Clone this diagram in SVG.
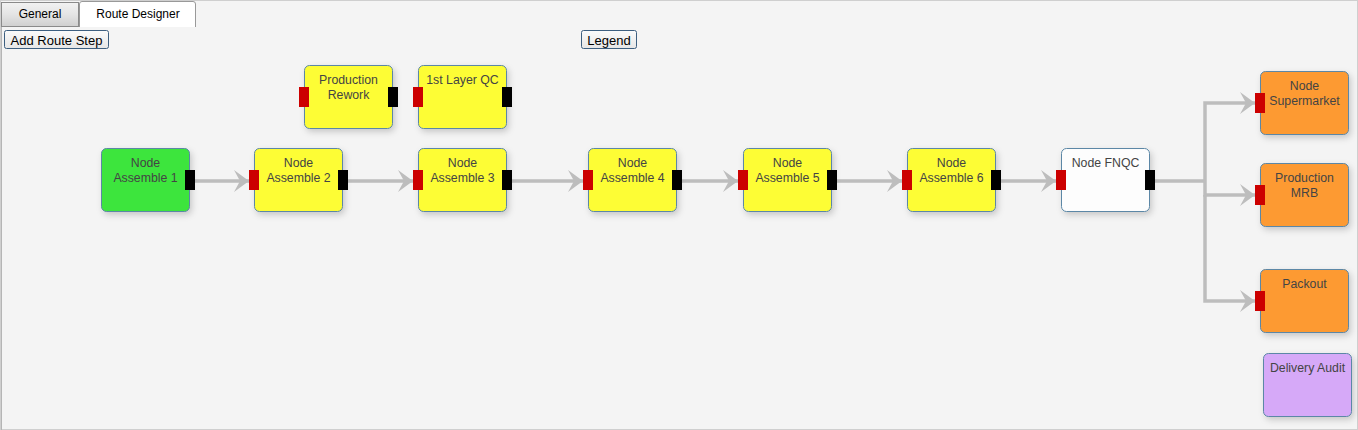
<svg xmlns="http://www.w3.org/2000/svg" width="1358" height="430" viewBox="0 0 1358 430">
<style>
.node{stroke:#5b87a6;stroke-width:1;}
.t{font-family:"Liberation Sans",Arial,sans-serif;font-size:12.3px;fill:#444;text-anchor:middle;}
.in{fill:#cc0000;}
.out{fill:#000;}
.conn{fill:none;stroke:#bdbdbd;stroke-width:3.5;}
.btn{fill:url(#btnG);stroke:#3d5f80;stroke-width:1;}
.bt{font-family:"Liberation Sans",Arial,sans-serif;font-size:13px;fill:#000;text-anchor:middle;}
.tab{font-family:"Liberation Sans",Arial,sans-serif;font-size:12px;fill:#000;text-anchor:middle;}
</style>
<defs>
<marker id="arr" markerWidth="16" markerHeight="24" refX="15" refY="11" orient="auto" markerUnits="userSpaceOnUse" viewBox="0 0 16 22">
<path d="M0,0 L15,11 L0,22 L6,11 Z" fill="#bdbdbd"/>
</marker>
<filter id="sh" x="-20%" y="-20%" width="150%" height="160%">
<feDropShadow dx="2" dy="3" stdDeviation="3" flood-color="#000" flood-opacity="0.18"/>
</filter>
<linearGradient id="btnG" x1="0" y1="0" x2="0" y2="1">
<stop offset="0" stop-color="#fbfbfb"/>
<stop offset="1" stop-color="#e6e6e6"/>
</linearGradient>
<linearGradient id="tabG" x1="0" y1="0" x2="0" y2="1">
<stop offset="0" stop-color="#f2f2f2"/>
<stop offset="0.5" stop-color="#e4e4e4"/>
<stop offset="1" stop-color="#cfcfcf"/>
</linearGradient>
</defs>
<rect x="0" y="0" width="1358" height="430" fill="#f4f4f4"/>
<rect x="0.5" y="0.5" width="1357" height="429" fill="none" stroke="#cfcfcf"/>
<line x1="1.5" y1="27" x2="1.5" y2="430" stroke="#b5b5b5"/>
<g id="tabs">
<rect x="1.5" y="2.5" width="77" height="24" fill="url(#tabG)" stroke="#8a8a8a"/>
<text class="tab" x="40" y="18">General</text>
<path d="M79.5,27 V4 Q79.5,1.5 82,1.5 H193 Q195.5,1.5 195.5,4 V27" fill="#fff" stroke="#999"/>
<text class="tab" x="138" y="18">Route Designer</text>
</g>
<g id="btn-add">
<rect class="btn" x="4.5" y="30.5" width="104" height="18" rx="2"/>
<text class="bt" x="56.5" y="45">Add Route Step</text>
</g>
<g id="btn-legend">
<rect class="btn" x="581.5" y="30.5" width="55" height="18" rx="2"/>
<text class="bt" x="609" y="45">Legend</text>
</g>
<g id="connectors">
<line class="conn" x1="195" y1="181" x2="249" y2="181" marker-end="url(#arr)"/>
<line class="conn" x1="348" y1="181" x2="413" y2="181" marker-end="url(#arr)"/>
<line class="conn" x1="512" y1="181" x2="583" y2="181" marker-end="url(#arr)"/>
<line class="conn" x1="682" y1="181" x2="738" y2="181" marker-end="url(#arr)"/>
<line class="conn" x1="837" y1="181" x2="902" y2="181" marker-end="url(#arr)"/>
<line class="conn" x1="1001" y1="181" x2="1056" y2="181" marker-end="url(#arr)"/>
<polyline class="conn" points="1155,181 1205,181"/>
<polyline class="conn" points="1205,181 1205,103 1255,103" marker-end="url(#arr)"/>
<polyline class="conn" points="1205,181 1205,195 1255,195" marker-end="url(#arr)"/>
<polyline class="conn" points="1205,195 1205,301 1255,301" marker-end="url(#arr)"/>
</g>
<g id="n-assemble1">
<rect class="node" x="101.5" y="148.5" width="88" height="63" rx="5" fill="#3de53d" filter="url(#sh)"/>
<text class="t" x="145.5" y="167">Node</text>
<text class="t" x="145.5" y="182">Assemble 1</text>
<rect class="out" x="185" y="170" width="10" height="20"/>
</g>
<g id="n-assemble2">
<rect class="node" x="254.5" y="148.5" width="88" height="63" rx="5" fill="#fdfd35" filter="url(#sh)"/>
<text class="t" x="298.5" y="167">Node</text>
<text class="t" x="298.5" y="182">Assemble 2</text>
<rect class="in" x="249" y="170" width="10" height="20"/>
<rect class="out" x="338" y="170" width="10" height="20"/>
</g>
<g id="n-rework">
<rect class="node" x="304.5" y="65.5" width="88" height="63" rx="5" fill="#fdfd35" filter="url(#sh)"/>
<text class="t" x="348.5" y="84">Production</text>
<text class="t" x="348.5" y="99">Rework</text>
<rect class="in" x="299" y="87" width="10" height="20"/>
<rect class="out" x="388" y="87" width="10" height="20"/>
</g>
<g id="n-1stlayerqc">
<rect class="node" x="418.5" y="65.5" width="88" height="63" rx="5" fill="#fdfd35" filter="url(#sh)"/>
<text class="t" x="462.5" y="84">1st Layer QC</text>
<rect class="in" x="413" y="87" width="10" height="20"/>
<rect class="out" x="502" y="87" width="10" height="20"/>
</g>
<g id="n-assemble3">
<rect class="node" x="418.5" y="148.5" width="88" height="63" rx="5" fill="#fdfd35" filter="url(#sh)"/>
<text class="t" x="462.5" y="167">Node</text>
<text class="t" x="462.5" y="182">Assemble 3</text>
<rect class="in" x="413" y="170" width="10" height="20"/>
<rect class="out" x="502" y="170" width="10" height="20"/>
</g>
<g id="n-assemble4">
<rect class="node" x="588.5" y="148.5" width="88" height="63" rx="5" fill="#fdfd35" filter="url(#sh)"/>
<text class="t" x="632.5" y="167">Node</text>
<text class="t" x="632.5" y="182">Assemble 4</text>
<rect class="in" x="583" y="170" width="10" height="20"/>
<rect class="out" x="672" y="170" width="10" height="20"/>
</g>
<g id="n-assemble5">
<rect class="node" x="743.5" y="148.5" width="88" height="63" rx="5" fill="#fdfd35" filter="url(#sh)"/>
<text class="t" x="787.5" y="167">Node</text>
<text class="t" x="787.5" y="182">Assemble 5</text>
<rect class="in" x="738" y="170" width="10" height="20"/>
<rect class="out" x="827" y="170" width="10" height="20"/>
</g>
<g id="n-assemble6">
<rect class="node" x="907.5" y="148.5" width="88" height="63" rx="5" fill="#fdfd35" filter="url(#sh)"/>
<text class="t" x="951.5" y="167">Node</text>
<text class="t" x="951.5" y="182">Assemble 6</text>
<rect class="in" x="902" y="170" width="10" height="20"/>
<rect class="out" x="991" y="170" width="10" height="20"/>
</g>
<g id="n-fnqc">
<rect class="node" x="1061.5" y="148.5" width="88" height="63" rx="5" fill="#fdfdfd" filter="url(#sh)"/>
<text class="t" x="1105.5" y="167">Node FNQC</text>
<rect class="in" x="1056" y="170" width="10" height="20"/>
<rect class="out" x="1145" y="170" width="10" height="20"/>
</g>
<g id="n-supermarket">
<rect class="node" x="1260.5" y="71.5" width="88" height="63" rx="5" fill="#fd9a33" filter="url(#sh)"/>
<text class="t" x="1304.5" y="90">Node</text>
<text class="t" x="1304.5" y="105">Supermarket</text>
<rect class="in" x="1255" y="93" width="10" height="20"/>
</g>
<g id="n-mrb">
<rect class="node" x="1260.5" y="163.5" width="88" height="63" rx="5" fill="#fd9a33" filter="url(#sh)"/>
<text class="t" x="1304.5" y="182">Production</text>
<text class="t" x="1304.5" y="197">MRB</text>
<rect class="in" x="1255" y="185" width="10" height="20"/>
</g>
<g id="n-packout">
<rect class="node" x="1260.5" y="269.5" width="88" height="63" rx="5" fill="#fd9a33" filter="url(#sh)"/>
<text class="t" x="1304.5" y="288">Packout</text>
<rect class="in" x="1255" y="291" width="10" height="20"/>
</g>
<g id="n-deliveryaudit">
<rect class="node" x="1263.5" y="353.5" width="88" height="63" rx="5" fill="#d6a9f8" filter="url(#sh)"/>
<text class="t" x="1307.5" y="372">Delivery Audit</text>
</g>
</svg>
